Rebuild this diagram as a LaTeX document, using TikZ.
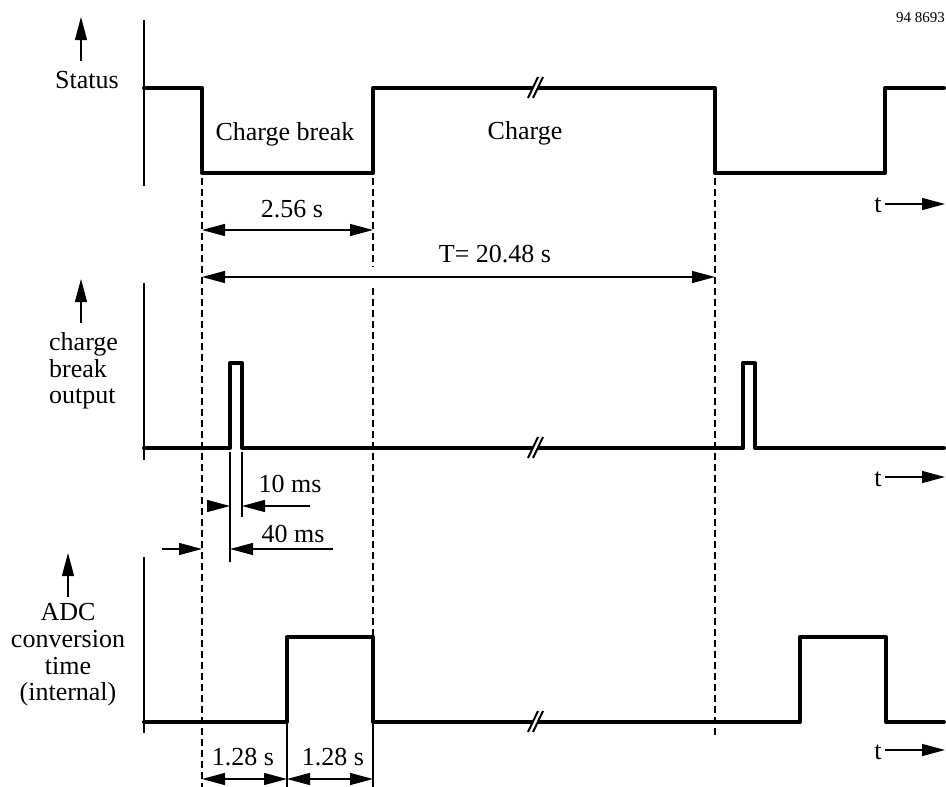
\documentclass[tikz,border=0pt]{standalone}
\usepackage{fontspec}
\setmainfont{Liberation Serif}
\usetikzlibrary{arrows.meta}
\begin{document}
\begin{tikzpicture}[x=1pt,y=-1pt,
  sig/.style={line width=4pt, line join=round, line cap=round},
  axisline/.style={line width=1.6pt},
  guide/.style={line width=1.5pt, dash pattern=on 7pt off 4pt},
  ext/.style={line width=1.3pt},
  dimboth/.style={line width=1.3pt, {Triangle[length=23pt,width=12pt]}-{Triangle[length=23pt,width=12pt]}},
  dimone/.style={line width=1.3pt, -{Triangle[length=23pt,width=12pt]}},
  lbl/.style={font=\fontsize{26}{27}\selectfont, inner sep=0pt, anchor=base},
  small/.style={font=\fontsize{15}{16}\selectfont, inner sep=0pt, anchor=base east},
  brk/.pic={\fill[white] (-7,10) -- (-2,10) -- (8,-11) -- (3,-11) -- cycle;
            \draw[line width=2pt] (-7,10) -- (3,-11) (-2,10) -- (8,-11);}
]
\useasboundingbox (0,0) rectangle (946,787);

% ---------- axes ----------
\coordinate (sA1) at (144,20);  \coordinate (sA2) at (144,186);
\coordinate (oA1) at (144,283); \coordinate (oA2) at (144,460);
\coordinate (aA1) at (144,557); \coordinate (aA2) at (144,733);
\draw[axisline] (sA1) -- (sA2);
\draw[axisline] (oA1) -- (oA2);
\draw[axisline] (aA1) -- (aA2);

% ---------- dashed guides ----------
\coordinate (g1a) at (202,178); \coordinate (g1b) at (202,787);
\coordinate (g2a) at (373,178); \coordinate (g2b) at (373,267);
\coordinate (g2c) at (373,288); \coordinate (g2d) at (373,636);
\coordinate (g3a) at (715,178); \coordinate (g3b) at (715,737);
\draw[guide] (g1a) -- (g1b);
\draw[guide] (g2a) -- (g2b);
\draw[guide] (g2c) -- (g2d);
\draw[guide] (g3a) -- (g3b);

% ---------- signals ----------
\draw[sig] (144,88) -- (202,88) -- (202,173) -- (373,173) -- (373,88) -- (715,88)
           -- (715,173) -- (885,173) -- (885,88) -- (944,88);
\draw[sig] (144,448) -- (230,448) -- (230,363) -- (242,363) -- (242,448) -- (743,448)
           -- (743,363) -- (755,363) -- (755,448) -- (944,448);
\draw[sig] (144,722) -- (287,722) -- (287,637) -- (373,637) -- (373,722) -- (800,722)
           -- (800,637) -- (886,637) -- (886,722) -- (944,722);
\pic at (535,88) {brk};
\pic at (535,448) {brk};
\pic at (535,722) {brk};

% ---------- up arrows & labels ----------
\coordinate (u1a) at (81,61);  \coordinate (u1b) at (81,17);
\coordinate (u2a) at (81,323); \coordinate (u2b) at (81,279);
\coordinate (u3a) at (68,597); \coordinate (u3b) at (68,553);
\draw[dimone] (u1a) -- (u1b);
\draw[dimone] (u2a) -- (u2b);
\draw[dimone] (u3a) -- (u3b);

\node[lbl] (status) at (87,88) {Status};
\node[lbl, anchor=base west] (ob1) at (49,350) {charge};
\node[lbl, anchor=base west] (ob2) at (49,377) {break};
\node[lbl, anchor=base west] (ob3) at (49,403) {output};
\node[lbl] (ad1) at (68,620) {ADC};
\node[lbl] (ad2) at (68,647) {conversion};
\node[lbl] (ad3) at (68,674) {time};
\node[lbl] (ad4) at (68,700) {(internal)};

\node[lbl] (cb) at (285,140) {Charge break};
\node[lbl] (ch) at (525,139) {Charge};
\node[small] (num) at (945,22) {94 8693};

% ---------- t arrows ----------
\node[lbl] (t1) at (878,212) {t};
\node[lbl] (t2) at (878,486) {t};
\node[lbl] (t3) at (878,759) {t};
\coordinate (t1e) at (945,204);
\coordinate (t2e) at (945,477);
\coordinate (t3e) at (945,750);
\draw[dimone] (t1.east |- t1e) ++(3,0) coordinate (t1s) -- (t1e);
\draw[dimone] (t2.east |- t2e) ++(3,0) coordinate (t2s) -- (t2e);
\draw[dimone] (t3.east |- t3e) ++(3,0) coordinate (t3s) -- (t3e);

% ---------- dimensions ----------
\coordinate (d1a) at (202,230); \coordinate (d1b) at (373,230);
\draw[dimboth] (d1a) -- (d1b);
\node[lbl] (l256) at (292,217) {2.56 s};

\coordinate (d2a) at (202,277); \coordinate (d2b) at (715,277);
\draw[dimboth] (d2a) -- (d2b);
\node[lbl] (lT) at (495,262) {T= 20.48 s};

% extension lines
\coordinate (e1a) at (230,452); \coordinate (e1b) at (230,562);
\coordinate (e2a) at (242,452); \coordinate (e2b) at (242,517);
\coordinate (e3a) at (287,724); \coordinate (e3b) at (287,787);
\coordinate (e4a) at (373,724); \coordinate (e4b) at (373,787);
\draw[ext] (e1a) -- (e1b);
\draw[ext] (e2a) -- (e2b);
\draw[ext] (e3a) -- (e3b);
\draw[ext] (e4a) -- (e4b);

% 10 ms
\coordinate (m1a) at (207,506); \coordinate (m1b) at (230,506);
\coordinate (m1c) at (310,506); \coordinate (m1d) at (242,506);
\draw[dimone] (m1a) -- (m1b);
\draw[dimone] (m1c) -- (m1d);
\node[lbl] (l10) at (290,492) {10 ms};

% 40 ms
\coordinate (m2a) at (162,549); \coordinate (m2b) at (202,549);
\coordinate (m2c) at (333,549); \coordinate (m2d) at (230,549);
\draw[dimone] (m2a) -- (m2b);
\draw[dimone] (m2c) -- (m2d);
\node[lbl] (l40) at (293,542) {40 ms};

% 1.28 s
\coordinate (k1) at (202,779); \coordinate (k2) at (287,779); \coordinate (k3) at (373,779);
\draw[dimboth] (k1) -- (k2);
\draw[dimboth] (k2) -- (k3);
\node[lbl] (l128a) at (243,765) {1.28 s};
\node[lbl] (l128b) at (333,765) {1.28 s};
\end{tikzpicture}
\end{document}
